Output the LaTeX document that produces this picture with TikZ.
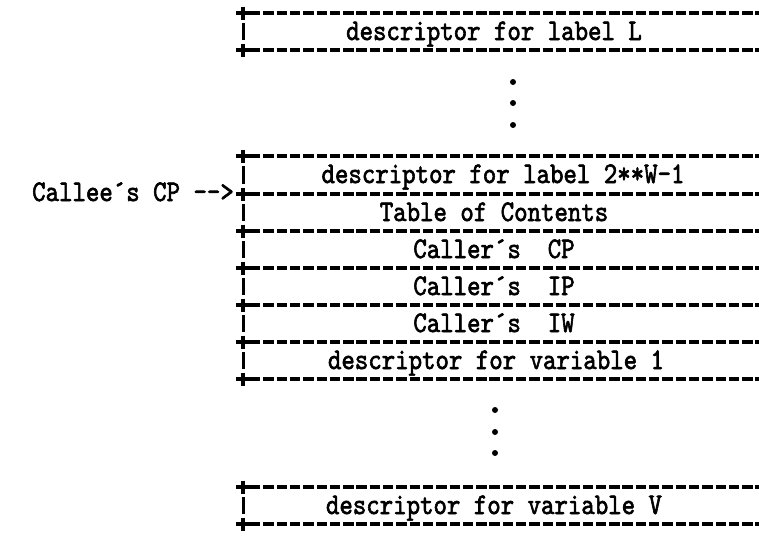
\documentclass[tikz,border=0pt]{standalone}
\usepackage{fontspec}
\usetikzlibrary{positioning}

\newfontfamily\typew{lmmono10-regular.otf}[FakeBold=2.2]
\newcommand{\typetall}[1]{\scalebox{1}[1.17]{#1}}

\tikzset{
  rowtext/.style={font=\typew\fontsize{25.6}{30}\selectfont, inner sep=0pt, anchor=base},
  sepline/.style={line width=3.4pt, dash pattern=on 10.4pt off 2.9pt},
  plusmark/.style={line width=3.2pt},
  sidebar/.style={line width=3pt},
}

\begin{document}
\begin{tikzpicture}[x=1pt,y=-1pt]
  \useasboundingbox (0,0) rectangle (759,539);
  % separator lines, each with a + at the left end
  \foreach \y in {13,50,156,194,231,268,305,342,379,487,524}{
    \draw[sepline] (250,\y) -- (759,\y);
    \draw[plusmark] (236,\y) -- (250,\y) (243,\y-6.5) -- (243,\y+6.5);
  }
  % left side bars
  \foreach \a/\b in {13/50,156/194,194/231,231/268,268/305,305/342,342/379,487/524}{
    \draw[sidebar] (243,\a+10) -- (243,\b-10);
  }
  % row texts
  \node[rowtext] (lblL) at (494,40) {\typetall{descriptor for label L}};
  \node[rowtext] (lblW) at (503,183) {\typetall{descriptor for label 2**W-1}};
  \node[rowtext] (toc) at (494,221) {\typetall{Table of Contents}};
  \node[rowtext] (callercp) at (494,258) {\typetall{Caller´s~~CP}};
  \node[rowtext] (callerip) at (494,295) {\typetall{Caller´s~~IP}};
  \node[rowtext] (calleriw) at (494,332) {\typetall{Caller´s~~IW}};
  \node[rowtext] (var1) at (496,369) {\typetall{descriptor for variable 1}};
  \node[rowtext] (varV) at (494,514) {\typetall{descriptor for variable V}};
  \node[rowtext, anchor=base east] (calleecp) at (234,201) {\typetall{Callee´s CP -{}->}};
  % dots
  \foreach \y in {82,103,125}{
    \fill (513,\y) circle (3pt);
  }
  \foreach \y in {410,432,453}{
    \fill (495,\y) circle (3pt);
  }
\end{tikzpicture}
\end{document}
